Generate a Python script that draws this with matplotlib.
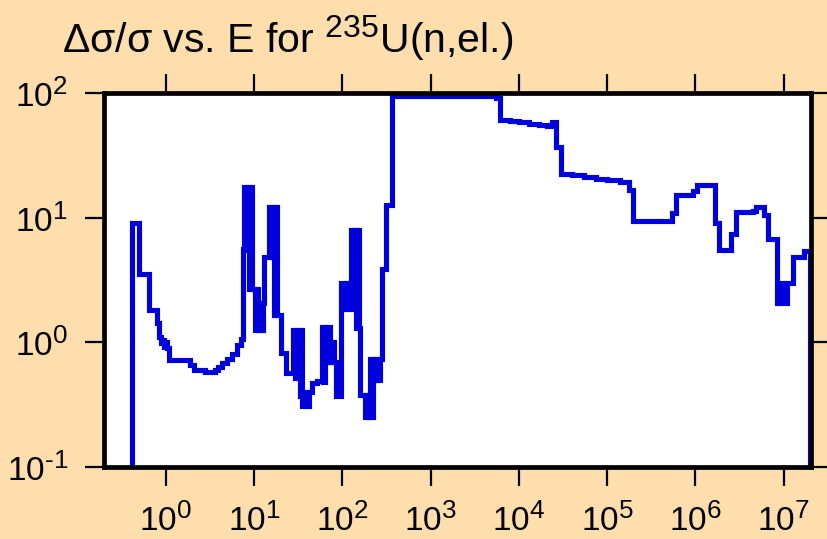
import matplotlib
matplotlib.use("Agg")
import matplotlib.pyplot as plt
import matplotlib.ticker as mticker
import numpy as np

try:
    import matplotlib._mathtext as _mt
    _mt.SHRINK_FACTOR = 0.78
except Exception:
    pass

# ---- data: group-wise relative uncertainty (%) vs. neutron energy (eV) ----
energy_edges = [
    0.418, 0.501, 0.638, 0.795, 0.844, 0.878, 0.913, 0.949, 0.987, 1.026,
    1.087, 1.895, 2.086, 2.801, 3.636, 3.931, 4.364, 4.972, 5.664, 6.452,
    7.16, 7.48, 7.80, 8.2, 8.5, 8.85, 9.2, 9.6, 10.13, 10.6,
    11.0, 11.5, 12.0, 12.5, 13.05, 14.8, 15.5, 16.1, 16.8, 17.4,
    18.0, 20.1, 22.9, 27.8, 29.5, 31.0, 32.5, 33.4, 34.3, 35.2,
    37.0, 39.5, 42.0, 45.5, 52.0, 58.3, 61.0, 63.5, 66.1, 69.5,
    72.5, 75.1, 80.0, 85.6, 96.4, 101.0, 106.0, 112.0, 118.0, 125.5,
    131.0, 136.0, 141.5, 148.0, 153.0, 159.0, 180.0, 190.0, 198.0, 205.0,
    213.0, 220.0, 227.0, 240.0, 255.0, 265.0, 279.0, 314.0, 361.0, 5450.0,
    6100.0, 8000.0, 10000.0, 13000.0, 17000.0, 21000.0, 23700.0, 26500.0, 29900.0, 40000.0,
    55000.0, 75000.0, 100000.0, 140000.0, 178000.0, 198000.0, 545000.0, 600000.0, 940000.0, 1.03e6,
    1.68e6, 1.86e6, 2.55e6, 2.85e6, 4.45e6, 4.9e6, 5.95e6, 6.6e6, 8.5e6, 9.2e6,
    1.0e7, 1.08e7, 1.28e7, 1.7e7, 1.96e7,
]
rel_unc = [
    9.06, 3.56, 1.81, 1.42, 1.11, 0.98, 1.04, 0.92, 1.00, 0.90,
    0.72, 0.66, 0.60, 0.58, 0.60, 0.63, 0.68, 0.74, 0.81, 0.95,
    1.07, 5.6, 17.5, 5.5, 17.5, 2.7, 17.5, 2.7, 1.26, 2.7,
    1.26, 2.06, 1.26, 2.06, 4.86, 12.1, 4.86, 12.1, 1.65, 12.1,
    1.65, 0.82, 0.565, 1.26, 0.52, 1.26, 0.52, 0.37, 1.26, 0.31,
    0.40, 0.31, 0.40, 0.47, 0.49, 1.33, 0.48, 1.33, 0.69, 1.33,
    0.69, 1.01, 0.69, 0.37, 2.98, 1.84, 2.98, 1.84, 2.98, 7.96,
    1.84, 7.96, 1.3, 7.96, 1.3, 0.38, 0.254, 0.38, 0.254, 0.73,
    0.254, 0.73, 0.50, 0.73, 0.50, 0.73, 3.85, 12.6, 95.0, 91.0,
    60.7, 59.5, 58.0, 56.8, 55.5, 54.5, 58.0, 37.1, 22.4, 21.8,
    21.0, 20.4, 19.9, 19.4, 16.7, 9.46, 10.96, 15.2, 16.4, 18.4,
    9.05, 5.5, 7.4, 11.0, 11.4, 12.1, 10.5, 6.75, 2.05, 2.98,
    2.05, 2.98, 4.8, 5.4,
]
x_ticks = [1e0, 1e1, 1e2, 1e3, 1e4, 1e5, 1e6, 1e7]
y_ticks = [1e-1, 1e0, 1e1, 1e2]
title_text = "Δσ/σ vs. E for $^{235}$U(n,el.)"

# ---- style ----
plt.rcParams['font.family'] = ['Liberation Sans', 'DejaVu Sans']
plt.rcParams['mathtext.fontset'] = 'custom'
plt.rcParams['mathtext.rm'] = 'Liberation Sans'
plt.rcParams['mathtext.it'] = 'Liberation Sans:italic'
plt.rcParams['mathtext.bf'] = 'Liberation Sans:bold'
plt.rcParams['mathtext.default'] = 'regular'
plt.rcParams['axes.unicode_minus'] = False


def decade_label(val, pos):
    e = int(round(np.log10(val)))
    if e < 0:
        return r'$\mathdefault{10^{\text{-}%d}}$' % (-e)
    return r'$\mathdefault{10^{%d}}$' % e


bg = '#FFDEAD'
line_color = '#0000DD'

fig = plt.figure(figsize=(8.27, 5.39), dpi=100, facecolor=bg)
ax = fig.add_axes([0.1258, 0.1336, 0.8549, 0.6939])
ax.set_facecolor('white')

ax.stairs(rel_unc, energy_edges, baseline=1e-3, color=line_color,
          linewidth=3.7, zorder=3)

ax.set_xscale('log')
ax.set_yscale('log')
ax.set_xlim(0.2, 2.04e7)
ax.set_ylim(0.1, 100)

ax.xaxis.set_major_locator(mticker.FixedLocator(x_ticks))
ax.yaxis.set_major_locator(mticker.FixedLocator(y_ticks))
ax.xaxis.set_minor_locator(mticker.NullLocator())
ax.yaxis.set_minor_locator(mticker.NullLocator())
ax.xaxis.set_major_formatter(mticker.FuncFormatter(decade_label))
ax.yaxis.set_major_formatter(mticker.FuncFormatter(decade_label))

ax.tick_params(which='major', direction='out', length=14, width=1.6,
               top=True, right=True, labeltop=False, labelright=False,
               labelsize=24, color='black')
ax.tick_params(axis='y', pad=12)
ax.tick_params(axis='x', pad=12)

for sp in ax.spines.values():
    sp.set_linewidth(3.4)
    sp.set_color('black')
    sp.set_zorder(5)

fig.text(62 / 827, 1 - 53 / 539, title_text, fontsize=29.5,
         ha='left', va='baseline', color='black')

fig.savefig('out.png', dpi=100, facecolor=bg)
